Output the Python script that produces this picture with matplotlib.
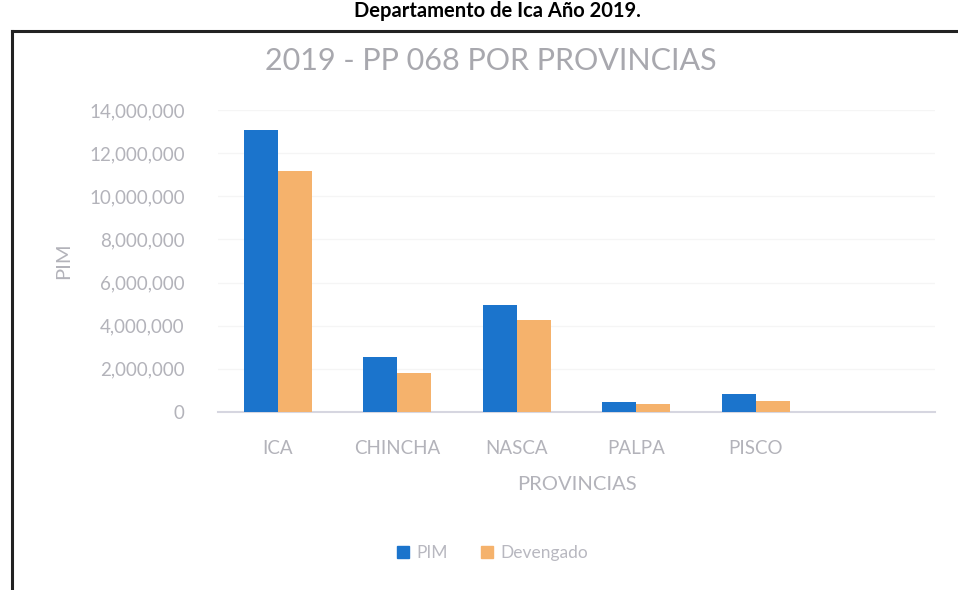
import matplotlib
matplotlib.use("Agg")
import matplotlib.pyplot as plt
from matplotlib.ticker import FuncFormatter, MultipleLocator
from matplotlib.lines import Line2D
import numpy as np

categories = ["ICA", "CHINCHA", "NASCA", "PALPA", "PISCO"]
pim = [13050000, 2550000, 4950000, 450000, 850000]
devengado = [11150000, 1800000, 4250000, 370000, 520000]

plt.rcParams['font.family'] = ['Lato', 'DejaVu Sans']

fig = plt.figure(figsize=(9.58, 5.9), dpi=100)
fig.patch.set_facecolor('white')

ax = fig.add_axes([218/958, (590-412)/590, 717/958, 302/590])

x = np.arange(len(categories))
w = 0.285
blue = '#1b74cc'
orange = '#f5b26c'
ax.bar(x - w/2, pim, w, color=blue, label='PIM', zorder=3)
ax.bar(x + w/2, devengado, w, color=orange, label='Devengado', zorder=3)

ax.set_xlim(-0.5, 5.5)
ax.set_ylim(0, 14000000)
ax.yaxis.set_major_locator(MultipleLocator(2000000))
ax.yaxis.set_major_formatter(FuncFormatter(lambda v, p: f"{int(v):,}"))
ax.set_xticks(x)
ax.set_xticklabels(categories)

grey = '#b3b3ba'
for s in ['top', 'right', 'left']:
    ax.spines[s].set_visible(False)
ax.spines['bottom'].set_color('#d6d6e0')
ax.spines['bottom'].set_linewidth(1.5)
ax.tick_params(axis='both', length=0, colors=grey, labelsize=13.5)
ax.tick_params(axis='y', pad=24)
ax.tick_params(axis='x', pad=20)
ax.grid(axis='y', color='#f5f5f5', linewidth=1, zorder=0)

ax.set_ylabel('PIM', color=grey, fontsize=14.5, labelpad=12)
ax.set_xlabel('PROVINCIAS', color=grey, fontsize=14.5, labelpad=14)

fig.text(491/958, 1 - 61/590, '2019 - PP 068 POR PROVINCIAS', ha='center', va='center',
         color='#a8a8ae', fontsize=22)

leg = fig.legend(handles=[
    Line2D([], [], marker='s', linestyle='none', color=blue, markersize=8, label='PIM'),
    Line2D([], [], marker='s', linestyle='none', color=orange, markersize=8, label='Devengado')],
    loc='center', bbox_to_anchor=(489/958, 1 - 553/590), ncol=2, frameon=False,
    fontsize=12.5, handletextpad=0.0, columnspacing=1.5, handlelength=1.5)
for t in leg.get_texts():
    t.set_color('#b8b8c0')

# caption above the chart frame
fig.text(497/958, 1 - 11/590, 'Departamento de Ica Año 2019.', ha='center', va='center',
         color='black', fontsize=14.5, fontweight='bold')

# document frame (top and left lines)
fig.add_artist(Line2D([12/958, 1.0], [1 - 31/590, 1 - 31/590], color='#222222', linewidth=2.2,
                      transform=fig.transFigure))
fig.add_artist(Line2D([12/958, 12/958], [1 - 31/590, 0], color='#222222', linewidth=2.2,
                      transform=fig.transFigure))

fig.savefig('out.png', dpi=100, facecolor='white')
